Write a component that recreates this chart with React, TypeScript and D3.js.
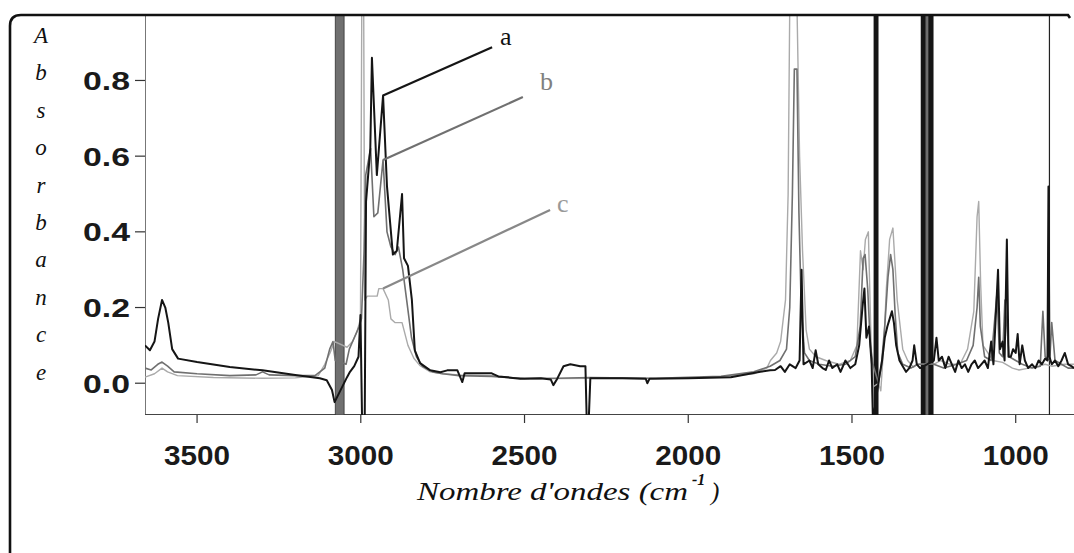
import React from 'react';
import * as d3 from 'd3';

const W = 1074;
const H = 553;
const plot = { left: 145, right: 1074, top: 15, bottom: 415 };

const xDomain = [3659, 822];
const yDomain = [-0.084, 0.973];
const xTicks = [3500, 3000, 2500, 2000, 1500, 1000];
const yTicks = [0.0, 0.2, 0.4, 0.6, 0.8];
const yTitle = ['A', 'b', 's', 'o', 'r', 'b', 'a', 'n', 'c', 'e'];

// spectrum a (black)
const seriesA: [number, number][] = [
  [3659, 0.1], [3644, 0.087], [3630, 0.11], [3619, 0.17], [3607, 0.22], [3597, 0.2], [3588, 0.16],
  [3576, 0.09], [3558, 0.065], [3500, 0.056], [3400, 0.043], [3300, 0.034], [3195, 0.021],
  [3125, 0.013], [3104, 0.008], [3088, -0.018], [3080, -0.05],
  [3042, 0.016], [3033, 0.03], [3020, 0.045], [3007, 0.07], [3001, 0.18], [2996, -0.1], [2988, -0.1],
  [2984, 0.48], [2971, 0.62], [2966, 0.86], [2951, 0.55], [2932, 0.76], [2920, 0.52], [2902, 0.34],
  [2890, 0.35], [2874, 0.5], [2868, 0.33], [2856, 0.31], [2844, 0.22], [2835, 0.087], [2819, 0.053],
  [2788, 0.034], [2757, 0.029], [2736, 0.034], [2705, 0.034], [2690, 0.003], [2683, 0.026],
  [2600, 0.026], [2580, 0.018], [2513, 0.012], [2450, 0.013], [2420, 0.01], [2412, -0.005],
  [2400, 0.012], [2381, 0.045], [2360, 0.05], [2330, 0.045], [2314, 0.045], [2310, -0.1],
  [2304, -0.1], [2299, 0.013], [2200, 0.013], [2130, 0.012], [2125, 0.0], [2118, 0.012],
  [2000, 0.013], [1870, 0.016], [1780, 0.03], [1750, 0.034], [1735, 0.035], [1718, 0.045],
  [1705, 0.03], [1690, 0.05], [1672, 0.04], [1660, 0.06], [1654, 0.3], [1648, 0.05], [1630, 0.06],
  [1620, 0.04], [1611, 0.087], [1603, 0.05], [1590, 0.04], [1580, 0.035], [1570, 0.06], [1560, 0.04],
  [1545, 0.05], [1535, 0.03], [1520, 0.06], [1505, 0.04], [1490, 0.05], [1478, 0.1], [1468, 0.2],
  [1462, 0.25], [1456, 0.12], [1448, 0.15], [1440, 0.05], [1436, -0.1],
  [1416, 0.02], [1408, 0.06], [1400, 0.12], [1392, 0.15], [1385, 0.17], [1378, 0.19], [1372, 0.16],
  [1365, 0.1], [1355, 0.06], [1345, 0.045], [1335, 0.03], [1325, 0.04], [1315, 0.06], [1310, 0.1],
  [1302, 0.05], [1292, 0.04],
  [1250, 0.06], [1242, 0.12], [1235, 0.06], [1225, 0.07], [1215, 0.04], [1205, 0.07], [1195, 0.05],
  [1185, 0.03], [1175, 0.06], [1165, 0.04], [1155, 0.05], [1145, 0.03], [1135, 0.05], [1125, 0.06],
  [1115, 0.04], [1105, 0.05], [1095, 0.06], [1085, 0.04], [1075, 0.11], [1068, 0.05], [1054, 0.3],
  [1048, 0.09], [1040, 0.11], [1034, 0.06], [1027, 0.38], [1022, 0.07], [1015, 0.07], [1008, 0.09],
  [1000, 0.08], [994, 0.13], [988, 0.05], [980, 0.1], [972, 0.06], [962, 0.04], [950, 0.05],
  [940, 0.04], [930, 0.06], [920, 0.05], [910, 0.065], [903, 0.06], [900, 0.52], [897, 0.07],
  [890, 0.05], [880, 0.06], [870, 0.045], [860, 0.06], [850, 0.08], [840, 0.05], [830, 0.045],
  [822, 0.04],
];

// spectrum b (mid grey)
const seriesB: [number, number][] = [
  [3659, 0.04], [3640, 0.035], [3620, 0.05], [3607, 0.056], [3590, 0.045], [3570, 0.03],
  [3500, 0.025], [3400, 0.02], [3320, 0.022], [3300, 0.03], [3280, 0.022], [3200, 0.02],
  [3140, 0.02], [3110, 0.04], [3095, 0.09], [3085, 0.11], [3078, 0.06],
  [3045, 0.05], [3035, 0.09], [3020, 0.12], [3005, 0.15], [2998, 0.17], [2990, 0.35], [2985, 0.55],
  [2970, 0.62], [2960, 0.44], [2948, 0.45], [2932, 0.59], [2920, 0.4], [2908, 0.36], [2895, 0.34],
  [2885, 0.36], [2872, 0.3], [2860, 0.22], [2845, 0.12], [2830, 0.07], [2812, 0.045], [2780, 0.03],
  [2750, 0.025], [2700, 0.02], [2600, 0.018], [2500, 0.012], [2400, 0.013], [2300, 0.015],
  [2100, 0.013], [1900, 0.018], [1800, 0.03], [1750, 0.045], [1720, 0.06], [1700, 0.09],
  [1690, 0.2], [1682, 0.5], [1676, 0.83], [1668, 0.83], [1662, 0.45], [1655, 0.2], [1645, 0.08],
  [1630, 0.06], [1600, 0.05], [1560, 0.045], [1520, 0.05], [1490, 0.07], [1475, 0.15], [1466, 0.33],
  [1460, 0.34], [1452, 0.25], [1444, 0.1], [1436, 0.05],
  [1419, 0.0], [1410, 0.05], [1400, 0.15], [1390, 0.28], [1382, 0.34], [1375, 0.3], [1368, 0.18],
  [1360, 0.08], [1345, 0.05], [1320, 0.04], [1300, 0.05],
  [1250, 0.05], [1220, 0.04], [1180, 0.05], [1150, 0.06], [1130, 0.1], [1118, 0.2], [1113, 0.28],
  [1108, 0.15], [1095, 0.07], [1075, 0.06], [1057, 0.24], [1050, 0.08], [1040, 0.07], [1033, 0.22],
  [1020, 0.07], [1000, 0.06], [980, 0.05], [950, 0.04], [925, 0.045], [917, 0.19], [910, 0.07],
  [896, 0.06], [890, 0.16], [880, 0.06], [860, 0.05], [840, 0.04], [822, 0.04],
];

// spectrum c (light grey)
const seriesC: [number, number][] = [
  [3659, 0.016], [3630, 0.025], [3607, 0.04], [3590, 0.03], [3560, 0.02], [3450, 0.015],
  [3300, 0.013], [3200, 0.014], [3130, 0.02], [3110, 0.05], [3094, 0.08], [3080, 0.11],
  [3042, 0.095], [3025, 0.11], [3012, 0.135], [3001, 0.17], [2996, 1.2], [2992, 1.2], [2988, 0.22],
  [2980, 0.23], [2950, 0.23], [2945, 0.25], [2932, 0.25], [2916, 0.22], [2908, 0.17], [2895, 0.16],
  [2874, 0.16], [2856, 0.1], [2838, 0.066], [2820, 0.047], [2788, 0.03], [2750, 0.025],
  [2700, 0.022], [2600, 0.02], [2500, 0.012], [2400, 0.012], [2300, 0.013], [2100, 0.012],
  [1900, 0.016], [1800, 0.025], [1760, 0.04], [1749, 0.06], [1730, 0.08], [1718, 0.11],
  [1703, 0.22], [1695, 0.5], [1688, 1.2], [1672, 1.2], [1660, 0.6], [1651, 0.35], [1640, 0.14],
  [1630, 0.09], [1610, 0.07], [1580, 0.06], [1540, 0.05], [1505, 0.06], [1485, 0.1], [1474, 0.35],
  [1466, 0.3], [1459, 0.38], [1450, 0.4], [1442, 0.12], [1436, -0.01],
  [1419, 0.0], [1412, -0.02], [1403, 0.1], [1395, 0.25], [1385, 0.38], [1375, 0.41], [1362, 0.22],
  [1345, 0.09], [1330, 0.06], [1312, 0.042], [1300, 0.05],
  [1250, 0.05], [1230, 0.06], [1200, 0.05], [1170, 0.05], [1147, 0.09], [1128, 0.19], [1118, 0.44],
  [1113, 0.48], [1107, 0.26], [1100, 0.1], [1085, 0.08], [1070, 0.06], [1040, 0.055],
  [1010, 0.04], [990, 0.035], [960, 0.04], [930, 0.045], [910, 0.05], [890, 0.045], [850, 0.05],
  [822, 0.05],
];

// off-scale (saturated) regions: [from, to, spectrum]
const saturated: [number, number, string][] = [
  [3078, 3051, 'b'],
  [1434, 1419, 'a'],
  [1290, 1275, 'a'],
  [1275, 1266, 'b'],
  [1266, 1251, 'a'],
];
const cursorLines = [897];

// leader lines for the a / b / c labels: [name, wavenumber, absorbance at peak, end wavenumber, end absorbance]
const leaders: [string, number, number, number, number][] = [
  ['a', 2932, 0.76, 2599, 0.888],
  ['b', 2932, 0.59, 2505, 0.756],
  ['c', 2932, 0.25, 2422, 0.458],
];

const colors: Record<string, string> = { a: '#151515', b: '#707070', c: '#aaaaaa' };
const widths: Record<string, number> = { a: 2, b: 1.6, c: 1.4 };

export default function App() {
  const x = d3.scaleLinear().domain(xDomain).range([plot.left, plot.right]);
  const y = d3.scaleLinear().domain(yDomain).range([plot.bottom, plot.top]);
  const line = d3.line<[number, number]>().x(d => x(d[0])).y(d => y(d[1]));
  const series: [string, [number, number][]][] = [['c', seriesC], ['b', seriesB], ['a', seriesA]];
  const serifItalic = { fontFamily: '"Liberation Serif", "DejaVu Serif", serif', fontStyle: 'italic' as const };
  const sans = { fontFamily: '"Liberation Sans", Arial, sans-serif', fontWeight: 700 };

  return (
    <svg width={W} height={H} style={{ position: 'absolute', left: 0, top: 0, background: '#fff' }}>
      <defs>
        <clipPath id="plotClip">
          <rect x={plot.left} y={plot.top} width={plot.right - plot.left} height={plot.bottom - plot.top} />
        </clipPath>
      </defs>

      {/* axes frame */}
      <line x1={plot.left + 0.5} x2={plot.left + 0.5} y1={plot.top} y2={plot.bottom} stroke="#777" strokeWidth={1} />
      <line x1={plot.left} x2={plot.right} y1={plot.bottom - 0.5} y2={plot.bottom - 0.5} stroke="#444" strokeWidth={1.2} />

      {yTicks.map(t => (
        <g key={t}>
          <line x1={plot.left - 10} x2={plot.left} y1={y(t)} y2={y(t)} stroke="#333" strokeWidth={1.2} />
          <text x={83} y={y(t) + 9.5} fontSize={26} textLength={47} lengthAdjust="spacingAndGlyphs" fill="#1a1a1a" {...sans}>
            {t.toFixed(1)}
          </text>
        </g>
      ))}
      {xTicks.map(t => (
        <g key={t}>
          <line x1={x(t)} x2={x(t)} y1={plot.bottom} y2={plot.bottom + 8} stroke="#333" strokeWidth={1.2} />
          <text x={x(t) - 33} y={465} fontSize={28} textLength={66} lengthAdjust="spacingAndGlyphs" fill="#1a1a1a" {...sans}>
            {t}
          </text>
        </g>
      ))}

      <g clipPath="url(#plotClip)">
        {saturated.map(([a, b, s], i) => (
          <rect key={i} x={x(a)} y={plot.top} width={x(b) - x(a)} height={plot.bottom - plot.top}
            fill={colors[s]} stroke={s === 'b' ? '#333' : 'none'} strokeWidth={0.8} />
        ))}
        {cursorLines.map(w => (
          <line key={w} x1={x(w)} x2={x(w)} y1={plot.top} y2={plot.bottom} stroke="#222" strokeWidth={1.2} />
        ))}
        {series.map(([name, data]) => (
          <path key={name} d={line(data) ?? ''} fill="none" stroke={colors[name]} strokeWidth={widths[name]} strokeLinejoin="round" />
        ))}
      </g>

      {leaders.map(([name, w0, a0, w1, a1]) => (
        <g key={name}>
          <line x1={x(w0)} y1={y(a0)} x2={x(w1)} y2={y(a1)} stroke={name === 'c' ? '#888' : colors[name]} strokeWidth={2.2} />
          <text
            x={x(w1) + (name === 'a' ? 8 : name === 'b' ? 17 : 7)}
            y={y(a1) + (name === 'a' ? -2 : name === 'b' ? -7 : 2)}
            fontSize={26} fill={name === 'a' ? '#111' : name === 'b' ? '#808080' : '#999'}
            fontFamily='"Liberation Serif", serif'>
            {name}
          </text>
        </g>
      ))}

      {/* outer frame */}
      <path d="M10,553 L10,26 Q10,15 21,15 L1068,15 L1070,18" fill="none" stroke="#111" strokeWidth={2.6} />

      {yTitle.map((ch, i) => (
        <text key={i} x={41} y={43 + i * 37.4} textAnchor="middle" fontSize={23} fill="#111" {...serifItalic}>
          {ch}
        </text>
      ))}

      <text y={500} fill="#111" fontSize={25} {...serifItalic}>
        <tspan x={417} textLength={271} lengthAdjust="spacingAndGlyphs">Nombre d'ondes (cm</tspan>
        <tspan x={692} y={485} fontSize={16} fontWeight={700}>-1</tspan>
        <tspan x={711} y={500}>)</tspan>
      </text>
    </svg>
  );
}
